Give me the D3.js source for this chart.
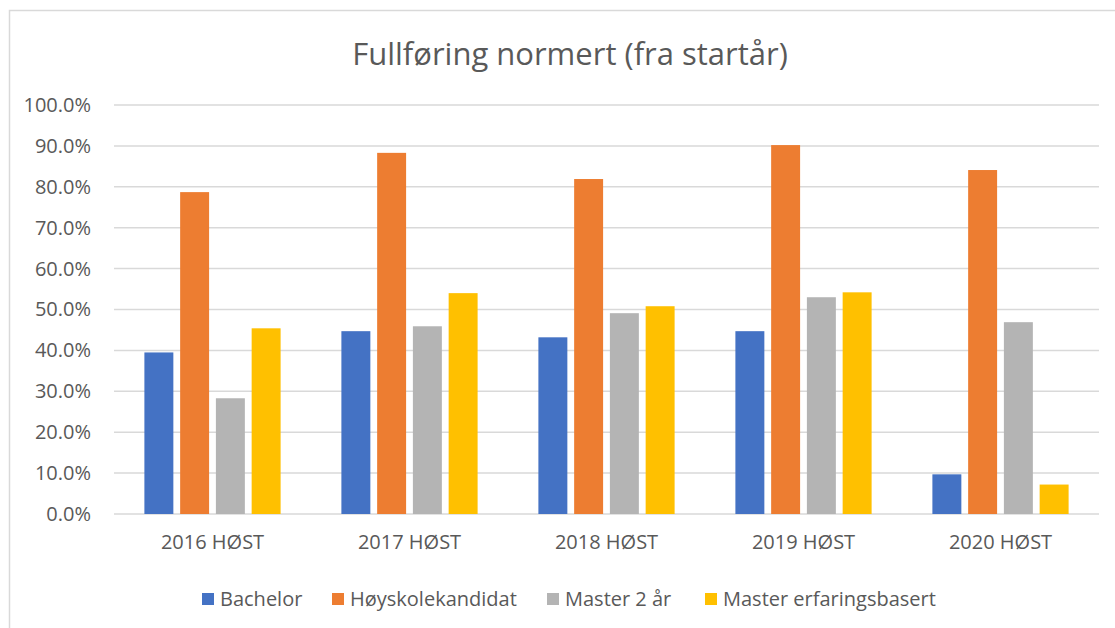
<!DOCTYPE html>
<html>
<head>
<meta charset="utf-8">
<script src="https://cdn.jsdelivr.net/npm/d3@7"></script>
<style>
  html, body { margin: 0; padding: 0; background: #fff; }
  svg text { font-family: "Open Sans", "Liberation Sans", sans-serif; fill: #595959; }
</style>
</head>
<body>
<div id="chart"></div>
<script>
const title = 'Fullføring normert (fra startår)';
const categories = ['2016 HØST', '2017 HØST', '2018 HØST', '2019 HØST', '2020 HØST'];
const series = ['Bachelor', 'Høyskolekandidat', 'Master 2 år', 'Master erfaringsbasert'];
const colors = ['#4472c4', '#ed7d31', '#b4b4b4', '#ffc000'];
// values per series, one per category (fraction)
const bachelor = [0.395, 0.447, 0.432, 0.447, 0.097];
const hoyskole = [0.787, 0.883, 0.819, 0.902, 0.841];
const master2 = [0.283, 0.459, 0.491, 0.530, 0.469];
const masterErf = [0.454, 0.540, 0.508, 0.542, 0.072];
const yTicks = [0, 0.1, 0.2, 0.3, 0.4, 0.5, 0.6, 0.7, 0.8, 0.9, 1.0];

const values = [bachelor, hoyskole, master2, masterErf];
const data = categories.map((c, i) => ({cat: c, vals: series.map((s, j) => ({key: s, v: values[j][i], idx: j}))}));

const width = 1115, height = 628;
const margin = {top: 105, left: 114, right: 16, bottom: 114};
const cw = width - margin.left - margin.right,
      ch = height - margin.top - margin.bottom;

const svg = d3.select('#chart').append('svg')
  .attr('width', width).attr('height', height);

// chart border (cropped on right and bottom)
svg.append('rect')
  .attr('x', 9.5).attr('y', 10.5)
  .attr('width', width + 20).attr('height', height + 20)
  .attr('fill', 'none').attr('stroke', '#d9d9d9').attr('stroke-width', 1.5);

svg.append('text')
  .attr('x', 570).attr('y', 65)
  .attr('text-anchor', 'middle')
  .style('font-size', '31px')
  .text(title);

const x = d3.scaleBand().domain(categories).range([0, cw]);
const xs = d3.scaleBand().domain(series).range([0, x.bandwidth()])
  .paddingInner(0.19).paddingOuter(0.85);
const y = d3.scaleLinear().domain([0, 1]).range([ch, 0]);

const g = svg.append('g').attr('transform', `translate(${margin.left},${margin.top})`);

// gridlines
g.append('g').attr('class', 'grid')
  .selectAll('line').data(yTicks).join('line')
  .attr('x1', 0).attr('x2', cw)
  .attr('y1', d => y(d)).attr('y2', d => y(d))
  .attr('stroke', '#d9d9d9').attr('stroke-width', 1.5);

// y axis labels
const yAxis = g.append('g')
  .call(d3.axisLeft(y).tickValues(yTicks).tickFormat(d3.format('.1%')).tickSize(0).tickPadding(23));
yAxis.select('.domain').remove();
yAxis.selectAll('text').style('font-size', '20px').attr('fill', '#595959').style('font-family', null);

// bars
g.selectAll('g.group').data(data).join('g').attr('class', 'group')
  .attr('transform', d => `translate(${x(d.cat)},0)`)
  .selectAll('rect').data(d => d.vals).join('rect')
  .attr('x', d => xs(d.key))
  .attr('width', xs.bandwidth())
  .attr('y', d => y(d.v))
  .attr('height', d => ch - y(d.v))
  .attr('fill', d => colors[d.idx]);

// x axis labels
const xAxis = g.append('g').attr('transform', `translate(0,${ch})`)
  .call(d3.axisBottom(x).tickSize(0).tickPadding(21));
xAxis.select('.domain').remove();
xAxis.selectAll('text').style('font-size', '20px').attr('fill', '#595959').style('font-family', null);

// legend
const legendX = [202, 332, 547, 705];
const legend = svg.append('g').attr('class', 'legend')
  .selectAll('g.item').data(series).join('g').attr('class', 'item')
  .attr('transform', (d, i) => `translate(${legendX[i]},593)`);
legend.append('rect').attr('width', 12).attr('height', 12)
  .attr('fill', (d, i) => colors[i]);
legend.append('text').attr('x', 18).attr('y', 6).attr('dy', '0.35em')
  .style('font-size', '20px')
  .text(d => d);
</script>
</body>
</html>
